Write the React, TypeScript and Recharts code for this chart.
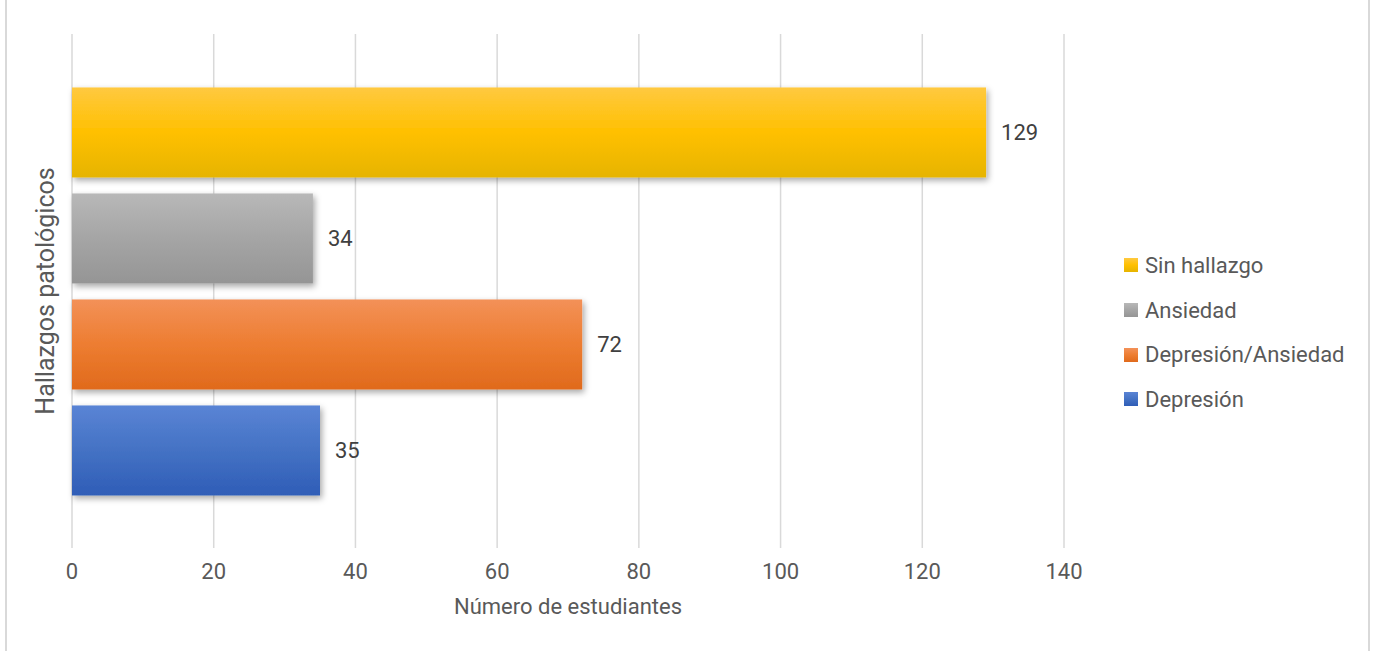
import React from 'react';
import { BarChart, Bar, XAxis, YAxis, CartesianGrid, LabelList } from 'recharts';

// series as Excel drew them, top to bottom
const seriesNames = ['Sin hallazgo', 'Ansiedad', 'Depresión/Ansiedad', 'Depresión'];
const seriesKeys = ['sinHallazgo', 'ansiedad', 'depAnsiedad', 'depresion'];
const seriesValues = [129, 34, 72, 35];
const xTicks = [0, 20, 40, 60, 80, 100, 120, 140];

// gradient stops: light top, base middle, darker bottom
const seriesColors = [
  ['#FFC940', '#FFC000', '#E6B400'],
  ['#B8B8B8', '#A5A5A5', '#959595'],
  ['#F39158', '#ED7D31', '#E06A1C'],
  ['#5A84D5', '#4472C4', '#2F5DB7'],
];

const row: Record<string, string | number> = { name: '' };
seriesKeys.forEach((k, i) => {
  row[k] = seriesValues[i];
});
const data = [row];

const FONT = 'Roboto, "Open Sans", sans-serif';
const TEXT = '#595959';

const ShadowBar = (props: any) => {
  const { x, y, width, height, fill } = props;
  if (!width || width <= 0) return null;
  return <rect x={x} y={y} width={width} height={height} fill={fill} filter="url(#barShadow)" />;
};

const LegendBox = () => (
  <div
    style={{
      position: 'absolute',
      left: 1124,
      top: 243,
      fontFamily: FONT,
      fontSize: 22,
      color: TEXT,
    }}
  >
    {seriesNames.map((n, i) => (
      <div key={n} style={{ display: 'flex', alignItems: 'center', height: 44.7, whiteSpace: 'nowrap' }}>
        <span
          style={{
            display: 'inline-block',
            width: 14,
            height: 14,
            marginRight: 7,
            background: `linear-gradient(${seriesColors[i][0]}, ${seriesColors[i][1]}, ${seriesColors[i][2]})`,
          }}
        />
        <span>{n}</span>
      </div>
    ))}
  </div>
);

export default function App() {
  return (
    <div style={{ position: 'absolute', left: 0, top: 0, width: 1375, height: 651, background: '#fff' }}>
      <svg width={0} height={0} style={{ position: 'absolute' }}>
        <defs>
          {seriesColors.map((c, i) => (
            <linearGradient key={i} id={`grad${i}`} x1="0" y1="0" x2="0" y2="1">
              <stop offset="0%" stopColor={c[0]} />
              <stop offset="50%" stopColor={c[1]} />
              <stop offset="100%" stopColor={c[2]} />
            </linearGradient>
          ))}
          <filter id="barShadow" x="-10%" y="-10%" width="130%" height="140%">
            <feDropShadow dx="2" dy="3" stdDeviation="3" floodColor="#000" floodOpacity="0.35" />
          </filter>
        </defs>
      </svg>
      <div style={{ position: 'absolute', left: 5, top: 0, width: 2, height: 651, background: '#d9d9d9' }} />
      <div style={{ position: 'absolute', left: 1368, top: 0, width: 2, height: 651, background: '#d9d9d9' }} />
      <BarChart
        width={1375}
        height={651}
        data={data}
        layout="vertical"
        margin={{ top: 34, right: 311, bottom: 33, left: 0 }}
        barCategoryGap="10.4%"
        barGap={16}
      >
        <CartesianGrid horizontal={false} stroke="#d9d9d9" strokeWidth={1.5} />
        <XAxis
          type="number"
          domain={[0, 140]}
          ticks={xTicks}
          height={70}
          axisLine={false}
          tickLine={false}
          tickMargin={9}
          tick={{ fontFamily: FONT, fontSize: 22, fill: TEXT }}
          label={{
            value: 'Número de estudiantes',
            position: 'insideBottom',
            offset: 4,
            style: { fontFamily: FONT, fontSize: 22, fill: TEXT },
          }}
        />
        <YAxis
          type="category"
          dataKey="name"
          width={72}
          axisLine={false}
          tickLine={false}
          tick={false}
          label={{
            value: 'Hallazgos patológicos',
            angle: -90,
            position: 'center',
            dx: 9,
            style: { fontFamily: FONT, fontSize: 25, fill: TEXT, textAnchor: 'middle' },
          }}
        />
        {seriesKeys.map((k, i) => (
          <Bar
            key={k}
            dataKey={k}
            name={seriesNames[i]}
            fill={`url(#grad${i})`}
            shape={ShadowBar}
            isAnimationActive={false}
          >
            <LabelList
              dataKey={k}
              position="right"
              offset={15}
              style={{ fontFamily: FONT, fontSize: 22, fill: '#404040' }}
            />
          </Bar>
        ))}
      </BarChart>
      <LegendBox />
    </div>
  );
}
